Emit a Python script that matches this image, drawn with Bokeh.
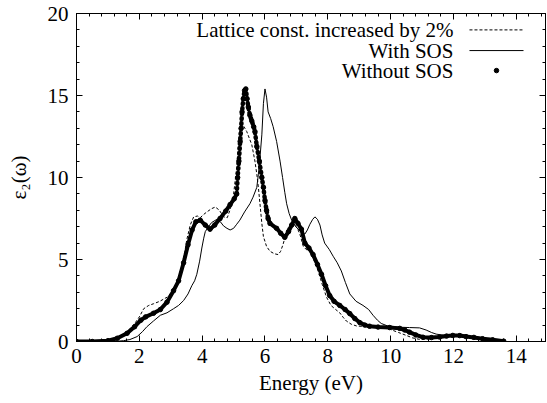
from bokeh.plotting import figure
from bokeh.models import (LinearAxis, SingleIntervalTicker, CustomJSTickFormatter,
                          Label, Range1d)
from bokeh.embed import file_html
from bokeh.resources import INLINE

# ---- data ----
lattice_x = [0, 0.5, 1.0, 1.2, 1.4, 1.6, 1.8, 2.0, 2.14, 2.3, 2.45, 2.65, 2.88, 3.0, 3.14,
             3.25, 3.35, 3.45, 3.51, 3.62, 3.73, 3.85, 3.94, 4.05, 4.15, 4.3, 4.42, 4.55,
             4.68, 4.8, 4.9, 4.99, 5.05, 5.1, 5.15, 5.2, 5.26, 5.33, 5.42, 5.5, 5.58, 5.68,
             5.74, 5.79, 5.84, 5.9, 5.95, 6.05, 6.16, 6.3, 6.42, 6.5, 6.58, 6.66, 6.74,
             6.85, 6.95, 7.03, 7.11, 7.22, 7.32, 7.43, 7.55, 7.69, 7.82, 7.96, 8.1, 8.25,
             8.38, 8.5, 8.59, 8.75, 8.91, 9.1, 9.44, 9.7, 9.97, 10.25, 10.5, 10.7, 10.92,
             11.2, 11.5, 11.8, 12.1, 12.4, 12.7, 13.0, 13.3, 13.6]
lattice_y = [0, 0, 0.05, 0.15, 0.35, 0.6, 0.95, 1.5, 2.0, 2.2, 2.3, 2.45, 2.7, 2.95, 3.4,
             3.9, 4.6, 5.5, 6.2, 7.1, 7.6, 7.65, 7.55, 7.75, 7.9, 8.1, 8.2, 8.0,
             7.6, 7.55, 8.1, 8.8, 9.8, 10.6, 12.0, 13.0, 13.3, 13.1, 12.8, 12.4, 12.0, 11.0,
             10.2, 9.4, 8.4, 7.2, 6.4, 5.8, 5.5, 5.35, 5.3, 5.5, 5.95, 6.5, 6.95,
             7.1, 7.1, 6.9, 6.55, 5.8, 5.6, 5.5, 5.0, 4.3, 3.5, 2.7, 2.2, 1.95,
             1.75, 1.45, 1.25, 1.05, 0.95, 0.92, 0.92, 0.85, 0.75, 0.55, 0.37, 0.22, 0.13,
             0.15, 0.22, 0.3, 0.33, 0.28, 0.2, 0.12, 0.06, 0.0]

with_x = [0, 0.5, 1.0, 1.3, 1.5, 1.7, 1.93, 2.1, 2.24, 2.45, 2.67, 2.88, 3.09, 3.25, 3.41,
          3.55, 3.67, 3.76, 3.83, 3.92, 3.99, 4.05, 4.1, 4.2, 4.3, 4.47, 4.58, 4.68, 4.79,
          4.89, 5.0, 5.1, 5.2, 5.35, 5.52, 5.62, 5.74, 5.79, 5.84, 5.9, 5.95, 6.0, 6.05,
          6.1, 6.18, 6.26, 6.37, 6.48, 6.56, 6.63, 6.69, 6.77, 6.85, 6.98, 7.11, 7.27,
          7.35, 7.43, 7.52, 7.59, 7.67, 7.75, 7.82, 7.9, 8.05, 8.17, 8.3, 8.43, 8.56, 8.7,
          8.9, 9.12, 9.3, 9.44, 9.58, 9.7, 9.9, 10.29, 10.6, 10.92, 11.13, 11.3, 11.45,
          11.7, 12.0, 12.3, 12.6, 12.9, 13.2, 13.6]
with_y = [0, 0, 0.0, 0.02, 0.05, 0.12, 0.3, 0.6, 0.9, 1.25, 1.6, 1.75, 2.0, 2.2, 2.5,
          2.9, 3.4, 3.7, 4.1, 4.9, 5.7, 6.3, 6.7, 7.0, 7.25, 7.45, 7.3, 7.05, 6.9,
          6.8, 6.9, 7.15, 7.4, 7.9, 8.4, 8.8, 9.4, 10.2, 11.2, 12.6, 14.5, 15.4, 14.9,
          14.0, 13.6, 13.1, 12.2, 11.0, 10.0, 9.1, 8.4, 7.8, 7.4, 7.0, 6.75, 6.55,
          6.8, 7.15, 7.45, 7.6, 7.45, 7.1, 6.5, 6.0, 5.6, 5.2, 4.8, 4.3, 3.6, 2.9,
          2.45, 2.2, 1.95, 1.6, 1.3, 1.1, 0.95, 0.87, 0.85, 0.83, 0.7, 0.55, 0.45,
          0.38, 0.37, 0.33, 0.25, 0.17, 0.08, 0.0]

without_x = [0, 0.5, 1.0, 1.3, 1.61, 1.85, 2.05, 2.2, 2.45, 2.67, 2.88, 3.09, 3.25, 3.41,
             3.55, 3.68, 3.8, 3.94, 4.1, 4.25, 4.4, 4.57, 4.75, 4.89, 5.02, 5.1, 5.13,
             5.17, 5.21, 5.24, 5.27, 5.31, 5.35, 5.39, 5.43, 5.47, 5.52, 5.58, 5.64, 5.68,
             5.74, 5.82, 5.9, 5.95, 6.0, 6.05, 6.1, 6.16, 6.37, 6.5, 6.63, 6.75, 6.85,
             6.95, 7.05, 7.16, 7.27, 7.4, 7.53, 7.67, 7.8, 7.93, 8.06, 8.2, 8.38, 8.55,
             8.7, 8.86, 9.02, 9.18, 9.33, 9.6, 9.97, 10.29, 10.45, 10.6, 10.8, 11.03,
             11.3, 11.56, 11.78, 11.98, 12.2, 12.4, 12.65, 12.93, 13.25, 13.6]
without_y = [0, 0, 0.05, 0.2, 0.5, 0.9, 1.3, 1.5, 1.72, 1.95, 2.4, 3.1, 3.7, 4.8,
             5.9, 6.8, 7.3, 7.4, 7.1, 6.85, 7.1, 7.5, 7.95, 8.35, 8.7, 9.0, 10.0,
             11.0, 12.2, 13.0, 14.0, 14.8, 15.3, 15.4, 14.8, 14.3, 13.8, 13.45, 13.1, 12.8,
             11.9, 11.0, 10.0, 9.4, 8.6, 8.0, 7.5, 7.2, 6.9, 6.6, 6.35, 6.7, 7.1,
             7.5, 7.2, 6.85, 6.0, 5.7, 5.3, 4.7, 4.1, 3.4, 2.8, 2.45, 2.2, 1.95,
             1.7, 1.4, 1.15, 1.0, 0.93, 0.88, 0.85, 0.8, 0.7, 0.57, 0.4, 0.26,
             0.24, 0.27, 0.33, 0.37, 0.36, 0.3, 0.25, 0.17, 0.1, 0.02]

legend_labels = ["Lattice const. increased by 2%", "With SOS", "Without SOS"]
x_label = "Energy (eV)"
y_label = "ε₂(ω)"

FONT = "Liberation Serif"
FS = "21px"

p = figure(frame_width=469, frame_height=328, output_backend="svg", toolbar_location=None,
           x_range=Range1d(0, 14.93), y_range=Range1d(0, 20),
           min_border_left=76, min_border_right=2, min_border_top=13, min_border_bottom=58,
           x_axis_label=x_label, y_axis_label=y_label)
p.grid.visible = False
p.outline_line_color = "black"
p.background_fill_color = "white"
p.border_fill_color = "white"

p.xaxis.ticker = SingleIntervalTicker(interval=2, num_minor_ticks=5)
p.yaxis.ticker = SingleIntervalTicker(interval=5, num_minor_ticks=5)

def style_axis(ax):
    ax.axis_line_color = "black"
    ax.axis_line_width = 1
    ax.major_tick_in = 6
    ax.major_tick_out = 0
    ax.minor_tick_in = 3
    ax.minor_tick_out = 0
    ax.major_tick_line_color = "black"
    ax.minor_tick_line_color = "black"
    ax.major_label_text_font = FONT
    ax.major_label_text_font_size = FS
    ax.major_label_text_color = "black"
    ax.axis_label_text_font = FONT
    ax.axis_label_text_font_size = FS
    ax.axis_label_text_font_style = "normal"
    ax.axis_label_text_color = "black"

for ax in p.xaxis + p.yaxis:
    style_axis(ax)
p.xaxis.major_label_standoff = 7
p.xaxis.axis_label_standoff = 5
p.yaxis.major_label_standoff = 8
p.yaxis.axis_label_standoff = 14

blank = CustomJSTickFormatter(code="return '';")
top = LinearAxis(ticker=SingleIntervalTicker(interval=2, num_minor_ticks=5), formatter=blank)
right = LinearAxis(ticker=SingleIntervalTicker(interval=5, num_minor_ticks=5), formatter=blank)
for ax in (top, right):
    style_axis(ax)
    ax.major_label_standoff = 0
p.add_layout(top, "above")
p.add_layout(right, "right")

# curves
p.line(lattice_x, lattice_y, line_color="black", line_width=1, line_dash="3 2")
p.line(with_x, with_y, line_color="black", line_width=1)

# "Without SOS": dense points -> thick line where smooth, visible dots on the steep peak
i0 = without_x.index(5.1)
i1 = without_x.index(6.1)
p.line(without_x[:i0 + 1], without_y[:i0 + 1], line_color="black", line_width=4,
       line_join="round", line_cap="round")
p.line(without_x[i1:], without_y[i1:], line_color="black", line_width=4,
       line_join="round", line_cap="round")
p.line(without_x[i0:i1 + 1], without_y[i0:i1 + 1], line_color="black", line_width=4.5,
       line_cap="round", line_dash="1 4")
p.scatter(without_x, without_y, size=4.5, color="black")

# legend (gnuplot style: text on the left, sample on the right)
leg_text_x = 12.0
leg_ys = [19.0, 17.74, 16.52]
sample_x0, sample_x1 = 12.51, 14.23
for lab, yy in zip(legend_labels, leg_ys):
    p.add_layout(Label(x=leg_text_x, y=yy, text=lab, text_align="right", text_baseline="middle",
                       text_font=FONT, text_font_size=FS, text_color="black"))
p.line([sample_x0, sample_x1], [leg_ys[0], leg_ys[0]], line_color="black", line_width=1, line_dash="3 2")
p.line([sample_x0, sample_x1], [leg_ys[1], leg_ys[1]], line_color="black", line_width=1)
p.scatter([(sample_x0 + sample_x1) / 2], [leg_ys[2]], size=4.5, color="black")

open("out.html", "w").write(file_html(p, INLINE))
